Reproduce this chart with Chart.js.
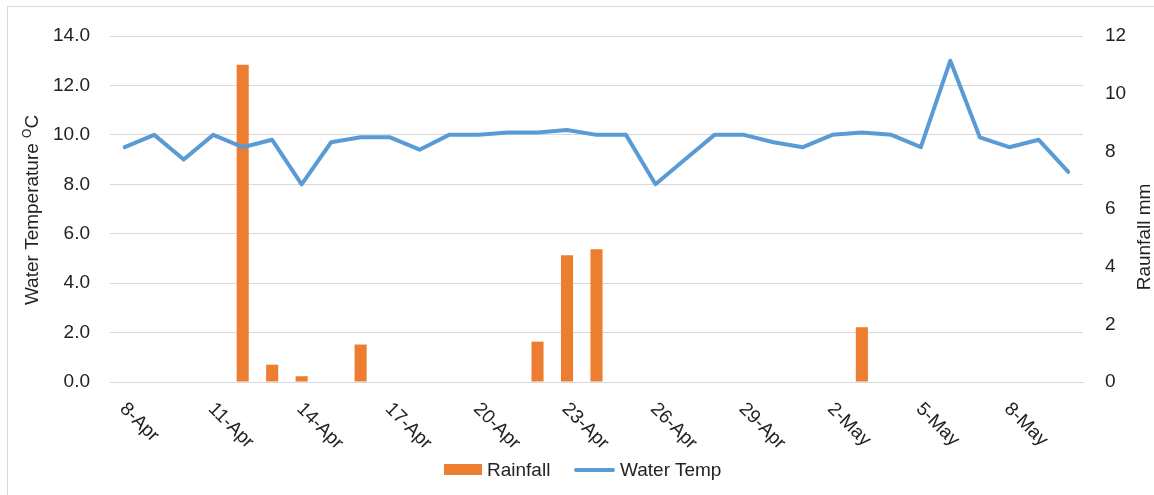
<!DOCTYPE html>
<html>
<head>
<meta charset="utf-8">
<script src="https://cdn.jsdelivr.net/npm/chart.js@4.4.1/dist/chart.umd.min.js"></script>
<style>
  html, body { margin: 0; padding: 0; background: #fff; overflow: hidden; }
  #wrap { position: relative; width: 1154px; height: 495px; }
  #frame { position: absolute; left: 7px; top: 6px; width: 1200px; height: 600px; border: 1px solid #d9d9d9; box-sizing: border-box; pointer-events: none; }
  #legend { position: absolute; left: 0; top: 458px; width: 1154px; font: 19px "Liberation Sans", Arial, sans-serif; color: #222; }
  .item { position: absolute; top: 0; line-height: 24px; white-space: nowrap; }
  .swatch { display: inline-block; vertical-align: middle; margin-right: 5px; }
</style>
</head>
<body>
<div id="wrap">
  <canvas id="chart"></canvas>
  <div id="frame"></div>
  <div id="legend">
    <div class="item" style="left:444px"><span class="swatch" style="width:38px;height:11px;background:#ed7d31;position:relative;top:-1px"></span>Rainfall</div>
    <div class="item" style="left:574px"><span class="swatch" style="width:41px;height:4px;border-radius:2px;background:#5b9bd5;position:relative;top:-1px"></span>Water Temp</div>
  </div>
</div>
<script>
const dates = ['8-Apr', '9-Apr', '10-Apr', '11-Apr', '12-Apr', '13-Apr', '14-Apr', '15-Apr', '16-Apr', '17-Apr',
  '18-Apr', '19-Apr', '20-Apr', '21-Apr', '22-Apr', '23-Apr', '24-Apr', '25-Apr', '26-Apr', '27-Apr',
  '28-Apr', '29-Apr', '30-Apr', '1-May', '2-May', '3-May', '4-May', '5-May', '6-May', '7-May',
  '8-May', '9-May', '10-May'];

const waterTemp = [9.5, 10.0, 9.0, 10.0, 9.5, 9.8, 8.0, 9.7, 9.9, 9.9,
  9.4, 10.0, 10.0, 10.1, 10.1, 10.2, 10.0, 10.0, 8.0, 9.0,
  10.0, 10.0, 9.7, 9.5, 10.0, 10.1, 10.0, 9.5, 13.0, 9.9,
  9.5, 9.8, 8.5];

const rainfall = [0, 0, 0, 0, 11.0, 0.6, 0.2, 0, 1.3, 0,
  0, 0, 0, 0, 1.4, 4.4, 4.6, 0, 0, 0,
  0, 0, 0, 0, 0, 1.9, 0, 0, 0, 0,
  0, 0, 0];

const tempTicks = [0, 2, 4, 6, 8, 10, 12, 14];
const rainTicks = [0, 2, 4, 6, 8, 10, 12];

const FONT = '"Liberation Sans", Arial, sans-serif';
const TEXT = '#222';
const GRID = '#d9d9d9';

// x labels (every 3rd day, rotated clockwise) and the two axis titles
const extraText = {
  id: 'extraText',
  afterDraw(chart) {
    const ctx = chart.ctx;
    const x = chart.scales.x;
    ctx.save();
    ctx.fillStyle = TEXT;
    ctx.font = '19px ' + FONT;
    ctx.textAlign = 'left';
    ctx.textBaseline = 'middle';
    dates.forEach((d, i) => {
      if (i % 3 !== 0) return;
      const px = x.getPixelForValue(i);
      ctx.save();
      ctx.translate(px - 2, 406);
      ctx.rotate(Math.PI / 4);
      ctx.fillText(d, 0, 0);
      ctx.restore();
    });

    // left title with superscript O
    const main = 'Water Temperature ';
    ctx.font = '19px ' + FONT;
    const w1 = ctx.measureText(main).width;
    const wC = ctx.measureText('C').width;
    ctx.font = '12px ' + FONT;
    const wO = ctx.measureText('O').width;
    const total = w1 + wO + wC;
    ctx.save();
    ctx.translate(33, 210);
    ctx.rotate(-Math.PI / 2);
    ctx.textBaseline = 'middle';
    let sx = -total / 2;
    ctx.font = '19px ' + FONT;
    ctx.fillText(main, sx, 0);
    sx += w1;
    ctx.font = '12px ' + FONT;
    ctx.fillText('O', sx, -5);
    sx += wO;
    ctx.font = '19px ' + FONT;
    ctx.fillText('C', sx, 0);
    ctx.restore();

    // right title, reading upwards
    ctx.save();
    ctx.translate(1145, 237);
    ctx.rotate(-Math.PI / 2);
    ctx.textAlign = 'center';
    ctx.textBaseline = 'middle';
    ctx.font = '19px ' + FONT;
    ctx.fillText('Raunfall mm', 0, 0);
    ctx.restore();
    ctx.restore();
  }
};

const ctx = document.getElementById('chart').getContext('2d');
new Chart(ctx, {
  data: {
    labels: dates,
    datasets: [
      {
        type: 'line',
        label: 'Water Temp',
        data: waterTemp,
        yAxisID: 'y',
        borderColor: '#5b9bd5',
        borderWidth: 4,
        pointRadius: 0,
        tension: 0,
        borderCapStyle: 'round',
        borderJoinStyle: 'round',
        order: 1
      },
      {
        type: 'bar',
        label: 'Rainfall',
        data: rainfall,
        yAxisID: 'y1',
        backgroundColor: '#ed7d31',
        barPercentage: 0.41,
        categoryPercentage: 1,
        order: 2
      }
    ]
  },
  options: {
    responsive: true,
    maintainAspectRatio: false,
    animation: false,
    layout: { padding: { top: 36, left: 0, right: 0, bottom: 0 } },
    plugins: { legend: { display: false }, tooltip: { enabled: false } },
    scales: {
      x: {
        grid: { display: false },
        border: { color: GRID, width: 1 },
        ticks: { display: false },
        afterFit(scale) { scale.height = 113; }
      },
      y: {
        position: 'left',
        min: 0,
        max: 14,
        afterBuildTicks(scale) { scale.ticks = tempTicks.map(v => ({ value: v })); },
        grid: { color: GRID, lineWidth: 1, drawTicks: false },
        border: { display: false },
        ticks: {
          color: TEXT,
          font: { family: FONT, size: 19 },
          padding: 20,
          callback: v => v.toFixed(1)
        },
        afterFit(scale) { scale.width = 110; }
      },
      y1: {
        position: 'right',
        min: 0,
        max: 12,
        afterBuildTicks(scale) { scale.ticks = rainTicks.map(v => ({ value: v })); },
        grid: { drawOnChartArea: false, drawTicks: false },
        border: { display: false },
        ticks: {
          color: TEXT,
          font: { family: FONT, size: 19 },
          padding: 22
        },
        afterFit(scale) { scale.width = 71; }
      }
    }
  },
  plugins: [extraText]
});
</script>
</body>
</html>
